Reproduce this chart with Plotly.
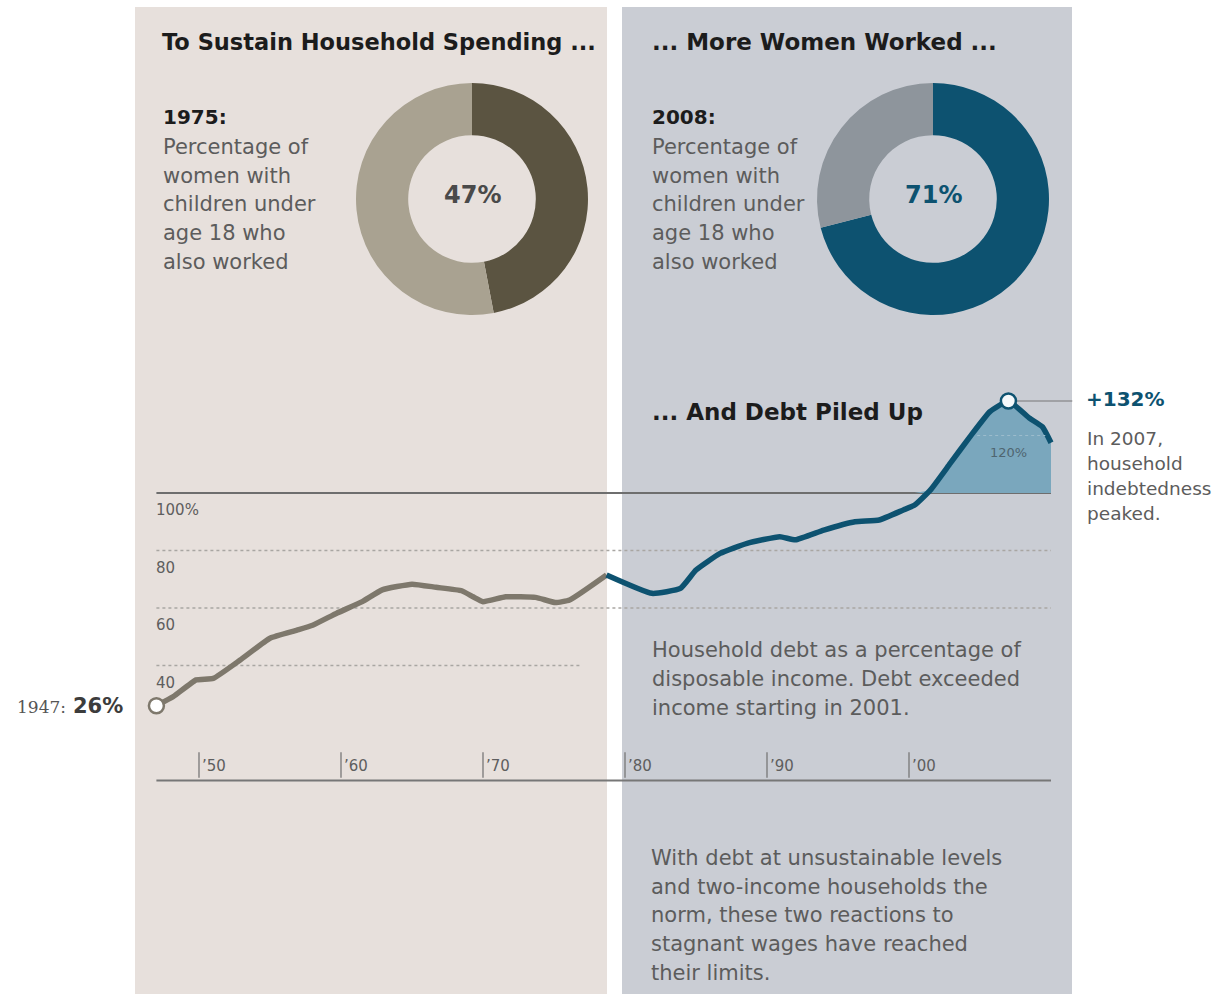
import plotly.graph_objects as go

W, H = 1221, 994

# Household debt as % of disposable income
years_early = [1947, 1948.2, 1949.8, 1951, 1952.9, 1955, 1956.9, 1958, 1959.7, 1961.5,
               1962.9, 1965, 1966.7, 1968.5, 1969.3, 1970, 1971.6, 1973.7, 1975.1, 1976.1, 1978.7]
debt_early = [26, 29.2, 35, 35.5, 41.9, 49.5, 52.3, 54, 58.2, 62.2,
              66.3, 68.3, 67.2, 66, 63.9, 62.2, 63.9, 63.7, 61.9, 62.8, 71.5]
years_late = [1978.7, 1981.9, 1983.9, 1985.0, 1986.7, 1988.6, 1990.9, 1992.0, 1994.0, 1996.2,
              1997.9, 1999.6, 2000.4, 2001.5, 2002.9, 2004.3, 2005.7, 2007, 2008.5, 2009.4, 2010]
debt_late = [71.5, 65.1, 66.8, 73.2, 79.0, 82.5, 84.8, 83.7, 87.1, 90.0,
             90.6, 94.1, 95.8, 101, 110.3, 119.6, 128.3, 132, 126, 123, 117.5]

start_year, start_value = 1947, 26
peak_year, peak_value = 2007, 132

# Working mothers share (%)
share_1975 = [47, 53]
share_2008 = [71, 29]

x_tick_years = [1950, 1960, 1970, 1980, 1990, 2000]
x_tick_labels = ["\u201950", "\u201960", "\u201970", "\u201980", "\u201990", "\u201900"]
y_tick_values = [100, 80, 60, 40]
y_tick_labels = ["100%", "80", "60", "40"]

BEIGE = "#e7e0dc"
SLATE = "#cacdd4"
TEAL = "#0d5270"
TAUPE = "#7e786c"
FILL = "#7aa7bd"
BODY = "#5c5c5c"
DARK = "#1c1c1c"
FONT = "DejaVu Sans"


def px(x):
    return x / W


def py(y):
    return 1 - y / H


fig = go.Figure()

# baseline at 100% and shaded area above it
late_x_fill = [x for x in years_late if x >= 2000]
late_y_fill = [max(v, 100) for x, v in zip(years_late, debt_late) if x >= 2000]
fig.add_trace(go.Scatter(x=[late_x_fill[0], late_x_fill[-1]], y=[100, 100], mode="lines",
                         line=dict(color="rgba(0,0,0,0)", width=0), hoverinfo="skip"))
fig.add_trace(go.Scatter(x=late_x_fill, y=late_y_fill, mode="lines", fill="tonexty",
                         fillcolor=FILL, line=dict(color="rgba(0,0,0,0)", width=0),
                         hoverinfo="skip"))

fig.add_trace(go.Scatter(x=years_early, y=debt_early, mode="lines",
                         line=dict(color=TAUPE, width=5.5, shape="spline", smoothing=0.4)))
fig.add_trace(go.Scatter(x=years_late, y=debt_late, mode="lines",
                         line=dict(color=TEAL, width=5.5, shape="spline", smoothing=0.4)))

fig.add_trace(go.Scatter(x=[start_year], y=[start_value], mode="markers",
                         marker=dict(size=15, color="white", line=dict(color=TAUPE, width=2.5))))
fig.add_trace(go.Scatter(x=[peak_year], y=[peak_value], mode="markers",
                         marker=dict(size=15, color="#f4f8fa", line=dict(color=TEAL, width=2.5))))

# donuts
fig.add_trace(go.Pie(values=share_1975, marker=dict(colors=["#5b5441", "#a9a291"]),
                     hole=0.55, sort=False, direction="clockwise", rotation=0,
                     textinfo="none", hoverinfo="skip",
                     domain=dict(x=[px(356), px(588)], y=[py(315), py(83)])))
fig.add_trace(go.Pie(values=share_2008, marker=dict(colors=[TEAL, "#8e959c"]),
                     hole=0.55, sort=False, direction="clockwise", rotation=0,
                     textinfo="none", hoverinfo="skip",
                     domain=dict(x=[px(817), px(1049)], y=[py(315), py(83)])))

shapes = [
    dict(type="rect", xref="paper", yref="paper", x0=px(135), x1=px(607), y0=0, y1=py(7),
         fillcolor=BEIGE, line=dict(width=0), layer="below"),
    dict(type="rect", xref="paper", yref="paper", x0=px(622), x1=px(1072), y0=0, y1=py(7),
         fillcolor=SLATE, line=dict(width=0), layer="below"),
    # 100% reference line and base axis
    dict(type="line", xref="x", yref="y", x0=1947, x1=2010, y0=100, y1=100,
         line=dict(color="#6e6e6e", width=2), layer="below"),
    dict(type="line", xref="x", yref="y", x0=1947, x1=2010, y0=0, y1=0,
         line=dict(color="#777777", width=2), layer="below"),
    # connector to peak label
    dict(type="line", xref="x", yref="y", x0=2007.5, x1=2011.5, y0=peak_value, y1=peak_value,
         line=dict(color="#777777", width=1.2), layer="below"),
]
# dotted gridlines
for v in [80, 60]:
    shapes.append(dict(type="line", xref="x", yref="y", x0=1947, x1=2010, y0=v, y1=v,
                       line=dict(color="#a9a6a2", width=1.5, dash="dot"), layer="below"))
shapes.append(dict(type="line", xref="x", yref="y", x0=1947, x1=1976.8, y0=40, y1=40,
                   line=dict(color="#a9a6a2", width=1.5, dash="dot"), layer="below"))
shapes.append(dict(type="line", xref="x", yref="y", x0=2004.8, x1=2009.6, y0=120, y1=120,
                   line=dict(color="#9cbccc", width=1, dash="dot"), layer="above"))
# x ticks
for yr in x_tick_years:
    shapes.append(dict(type="line", xref="x", yref="y", x0=yr, x1=yr, y0=1, y1=9.8,
                       line=dict(color="#777777", width=1.3), layer="below"))

ann = []


def text(x, y, s, size, color=BODY, bold=False, family=FONT, anchor="left"):
    ann.append(dict(xref="paper", yref="paper", x=px(x), y=py(y), text=f"<b>{s}</b>" if bold else s,
                    showarrow=False, xanchor=anchor, yanchor="middle",
                    font=dict(family=family, size=size, color=color)))


# headlines
text(160, 42, "To Sustain Household Spending ...", 22.5, DARK, True)
text(650, 42, "... More Women Worked ...", 23, DARK, True)
text(650, 412, "... And Debt Piled Up", 23, DARK, True)

# donut captions
caption = ["Percentage of", "women with", "children under", "age 18 who", "also worked"]
text(161, 117, "1975:", 20, DARK, True)
text(650, 117, "2008:", 20, DARK, True)
for i, line in enumerate(caption):
    text(161, 147 + 28.7 * i, line, 21)
    text(650, 147 + 28.7 * i, line, 21)

ann.append(dict(xref="paper", yref="paper", x=px(472), y=py(195), text=f"<b>{share_1975[0]}%</b>",
                showarrow=False, xanchor="center", yanchor="middle",
                font=dict(family=FONT, size=24, color="#4a4a4a")))
ann.append(dict(xref="paper", yref="paper", x=px(933), y=py(195), text=f"<b>{share_2008[0]}%</b>",
                showarrow=False, xanchor="center", yanchor="middle",
                font=dict(family=FONT, size=24, color=TEAL)))

# y tick labels beneath each line
for v, lab in zip(y_tick_values, y_tick_labels):
    ann.append(dict(xref="x", yref="y", x=1947, y=v, text=lab, showarrow=False,
                    xanchor="left", yanchor="top", yshift=-6, xshift=-2,
                    font=dict(family=FONT, size=15, color="#5e5e5e")))
ann.append(dict(xref="x", yref="y", x=2007, y=120, text="120%", showarrow=False,
                xanchor="center", yanchor="top", yshift=-7,
                font=dict(family=FONT, size=13, color="#4f6570")))

# x tick labels
for yr, lab in zip(x_tick_years, x_tick_labels):
    ann.append(dict(xref="x", yref="y", x=yr, y=5, text=lab, showarrow=False,
                    xanchor="left", yanchor="middle", xshift=1,
                    font=dict(family=FONT, size=15, color="#5e5e5e")))

# start label
ann.append(dict(xref="x", yref="y", x=start_year, y=start_value, text=f"{start_year}:",
                showarrow=False, xanchor="right", yanchor="middle", xshift=-88, yshift=-1,
                font=dict(family="DejaVu Serif", size=17, color="#555555")))
ann.append(dict(xref="x", yref="y", x=start_year, y=start_value, text=f"<b>{start_value}%</b>",
                showarrow=False, xanchor="right", yanchor="middle", xshift=-31, yshift=0,
                font=dict(family=FONT, size=21, color="#3c3c3c")))

# peak label
ann.append(dict(xref="x", yref="y", x=2011.5, y=peak_value, text=f"<b>+{peak_value}%</b>",
                showarrow=False, xanchor="left", yanchor="middle", xshift=12, yshift=2,
                font=dict(family=FONT, size=20, color=TEAL)))
for i, line in enumerate(["In 2007,", "household", "indebtedness", "peaked."]):
    text(1085, 438 + 25.3 * i, line, 18.5)

# notes
for i, line in enumerate(["Household debt as a percentage of", "disposable income. Debt exceeded",
                          "income starting in 2001."]):
    text(650, 650 + 29 * i, line, 21)
for i, line in enumerate(["With debt at unsustainable levels", "and two-income households the",
                          "norm, these two reactions to", "stagnant wages have reached",
                          "their limits."]):
    text(649, 858 + 28.7 * i, line, 21)

fig.update_layout(
    width=W, height=H, margin=dict(l=0, r=0, t=0, b=0),
    paper_bgcolor="white", plot_bgcolor="rgba(0,0,0,0)",
    showlegend=False, shapes=shapes, annotations=ann,
    xaxis=dict(range=[1980 - 625 / 14.2, 1980 + (W - 625) / 14.2], visible=False, fixedrange=True),
    yaxis=dict(range=[100 - (H - 493) / 2.875, 100 + 493 / 2.875], visible=False, fixedrange=True),
)

fig.write_html("out.html")
